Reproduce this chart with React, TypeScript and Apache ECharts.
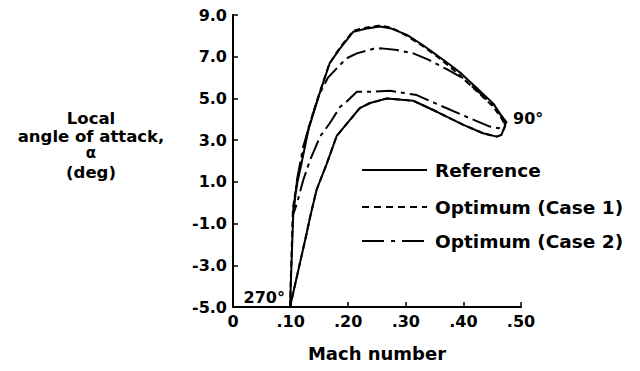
import React, { useEffect, useRef } from "react";
import * as echarts from "echarts";

// Mach number / local angle of attack (deg) loops
const referenceLoop: [number, number][] = [
  [0.099, -5.0], [0.105, -0.2], [0.112, 1.0], [0.119, 1.9], [0.131, 3.5], [0.148, 5.05],
  [0.168, 6.7], [0.186, 7.4], [0.209, 8.2], [0.232, 8.35], [0.255, 8.45], [0.275, 8.35],
  [0.302, 8.05], [0.330, 7.55], [0.350, 7.15], [0.375, 6.65], [0.396, 6.2], [0.425, 5.45],
  [0.452, 4.75], [0.466, 4.15], [0.473, 3.75],
  [0.466, 3.25], [0.458, 3.17], [0.434, 3.33], [0.400, 3.73], [0.354, 4.36], [0.313, 4.89],
  [0.267, 5.0], [0.238, 4.78], [0.220, 4.53], [0.180, 3.2], [0.163, 1.89], [0.145, 0.61],
  [0.134, -0.67], [0.128, -1.45], [0.099, -5.0],
];

const case1Loop: [number, number][] = [
  [0.099, -5.0], [0.104, -0.3], [0.111, 1.0], [0.119, 2.0], [0.130, 3.5], [0.147, 5.0],
  [0.167, 6.65], [0.186, 7.45], [0.209, 8.25], [0.232, 8.4], [0.255, 8.5], [0.275, 8.4],
  [0.302, 8.0], [0.330, 7.5], [0.350, 7.1], [0.375, 6.55], [0.396, 6.05], [0.425, 5.3],
  [0.452, 4.6], [0.466, 4.05], [0.473, 3.7],
  [0.466, 3.25], [0.458, 3.17], [0.434, 3.33], [0.400, 3.73], [0.354, 4.36], [0.313, 4.89],
  [0.267, 5.0], [0.238, 4.78], [0.220, 4.53], [0.180, 3.2], [0.163, 1.89], [0.145, 0.61],
  [0.134, -0.67], [0.128, -1.45], [0.099, -5.0],
];

const case2Loop: [number, number][] = [
  [0.104, -0.6], [0.105, -0.5], [0.111, 1.09], [0.122, 2.69], [0.139, 4.29], [0.151, 5.25],
  [0.165, 6.0], [0.180, 6.44], [0.197, 6.92], [0.215, 7.16], [0.244, 7.38], [0.258, 7.4],
  [0.285, 7.32], [0.313, 7.16], [0.340, 6.85], [0.371, 6.4], [0.397, 6.0], [0.425, 5.35],
  [0.452, 4.65], [0.468, 4.1], [0.475, 3.85],
  [0.461, 3.57], [0.446, 3.65], [0.411, 4.05], [0.365, 4.6], [0.319, 5.16], [0.273, 5.37],
  [0.238, 5.32], [0.215, 5.32], [0.197, 4.84], [0.186, 4.6], [0.168, 3.81], [0.151, 3.17],
  [0.134, 2.05], [0.122, 1.09], [0.111, -0.03], [0.104, -0.6],
];

const seriesNames = ["Reference", "Optimum (Case 1)", "Optimum (Case 2)"];
const xMin = 0;
const xMax = 0.5;
const xStep = 0.1;
const yMin = -5;
const yMax = 9;
const yStep = 2;
const yAxisTitleLines = ["Local", "angle of attack,", "α", "(deg)"];
const xAxisTitle = "Mach number";
const pointLabels = ["270°", "90°"];

const FONT = "DejaVu Sans";

export default function App() {
  const ref = useRef<HTMLDivElement>(null);

  useEffect(() => {
    if (!ref.current) return;
    const chart = echarts.init(ref.current, null, { renderer: "svg" });
    const shift = (pts: [number, number][]) => pts.map(([m, a]) => [m, a - yMin]);

    const lineStyles: any[] = [
      { color: "#000", width: 2, type: "solid" },
      { color: "#000", width: 2, type: [6, 4] },
      { color: "#000", width: 2, type: [20, 5, 4, 5] },
    ];
    const loops = [referenceLoop, case1Loop, case2Loop];

    const legendY = [170, 207, 241];
    const legendGraphics: any[] = [];
    seriesNames.forEach((name, i) => {
      legendGraphics.push({
        type: "line",
        shape: { x1: 362, y1: legendY[i], x2: 427, y2: legendY[i] },
        style: { stroke: "#000", lineWidth: 2, lineDash: i === 0 ? null : i === 1 ? [7, 5] : [22, 7, 4, 7] },
      });
      legendGraphics.push({
        type: "text",
        x: 435,
        y: legendY[i],
        style: {
          text: name,
          fill: "#000",
          font: `bold 18.5px '${FONT}'`,
          textAlign: "left",
          textVerticalAlign: "middle",
        },
      });
    });

    const titleY = [118, 136, 153, 172];
    const titleGraphics = yAxisTitleLines.map((t, i) => ({
      type: "text",
      x: 91,
      y: titleY[i],
      style: {
        text: t,
        fill: "#000",
        font: `bold ${i === 2 ? 15 : 16.5}px '${FONT}'`,
        textAlign: "center",
        textVerticalAlign: "middle",
      },
    }));

    chart.setOption({
      animation: false,
      backgroundColor: "#fff",
      grid: { left: 233, right: 119, top: 15, bottom: 64, containLabel: false },
      xAxis: {
        type: "value",
        min: xMin,
        max: xMax,
        interval: xStep,
        name: xAxisTitle,
        nameLocation: "middle",
        nameGap: 37,
        nameTextStyle: { color: "#000", fontFamily: FONT, fontWeight: "bold", fontSize: 18 },
        axisLine: { show: true, onZero: false, lineStyle: { color: "#000", width: 2 } },
        axisTick: { show: true, inside: true, length: 5, lineStyle: { color: "#000", width: 1.5 } },
        splitLine: { show: false },
        axisLabel: {
          color: "#000",
          fontFamily: FONT,
          fontWeight: "bold",
          fontSize: 16,
          margin: 6,
          showMinLabel: true,
          showMaxLabel: true,
          formatter: (v: number) => (Math.abs(v) < 1e-9 ? "0" : "." + String(Math.round(v * 100)).padStart(2, "0")),
        },
      },
      yAxis: {
        type: "value",
        min: 0,
        max: yMax - yMin,
        interval: yStep,
        axisLine: { show: true, onZero: false, lineStyle: { color: "#000", width: 2 } },
        axisTick: { show: true, inside: true, length: 5, lineStyle: { color: "#000", width: 1.5 } },
        splitLine: { show: false },
        axisLabel: {
          color: "#000",
          fontFamily: FONT,
          fontWeight: "bold",
          fontSize: 16,
          margin: 6,
          showMinLabel: true,
          showMaxLabel: true,
          formatter: (v: number) => (v + yMin).toFixed(1),
        },
      },
      series: loops.map((pts, i) => ({
        name: seriesNames[i],
        type: "line",
        data: shift(pts),
        showSymbol: false,
        symbol: "none",
        smooth: false,
        lineStyle: lineStyles[i],
        z: 3 - i,
      })),
      graphic: [
        ...titleGraphics,
        {
          type: "text",
          x: 285,
          y: 297,
          style: {
            text: pointLabels[0],
            fill: "#000",
            font: `bold 16px '${FONT}'`,
            textAlign: "right",
            textVerticalAlign: "middle",
          },
        },
        {
          type: "text",
          x: 513,
          y: 118,
          style: {
            text: pointLabels[1],
            fill: "#000",
            font: `bold 16px '${FONT}'`,
            textAlign: "left",
            textVerticalAlign: "middle",
          },
        },
        ...legendGraphics,
      ],
    });
    return () => chart.dispose();
  }, []);

  return (
    <div
      ref={ref}
      style={{ position: "fixed", left: 0, top: 0, width: 640, height: 371, background: "#fff" }}
    />
  );
}
